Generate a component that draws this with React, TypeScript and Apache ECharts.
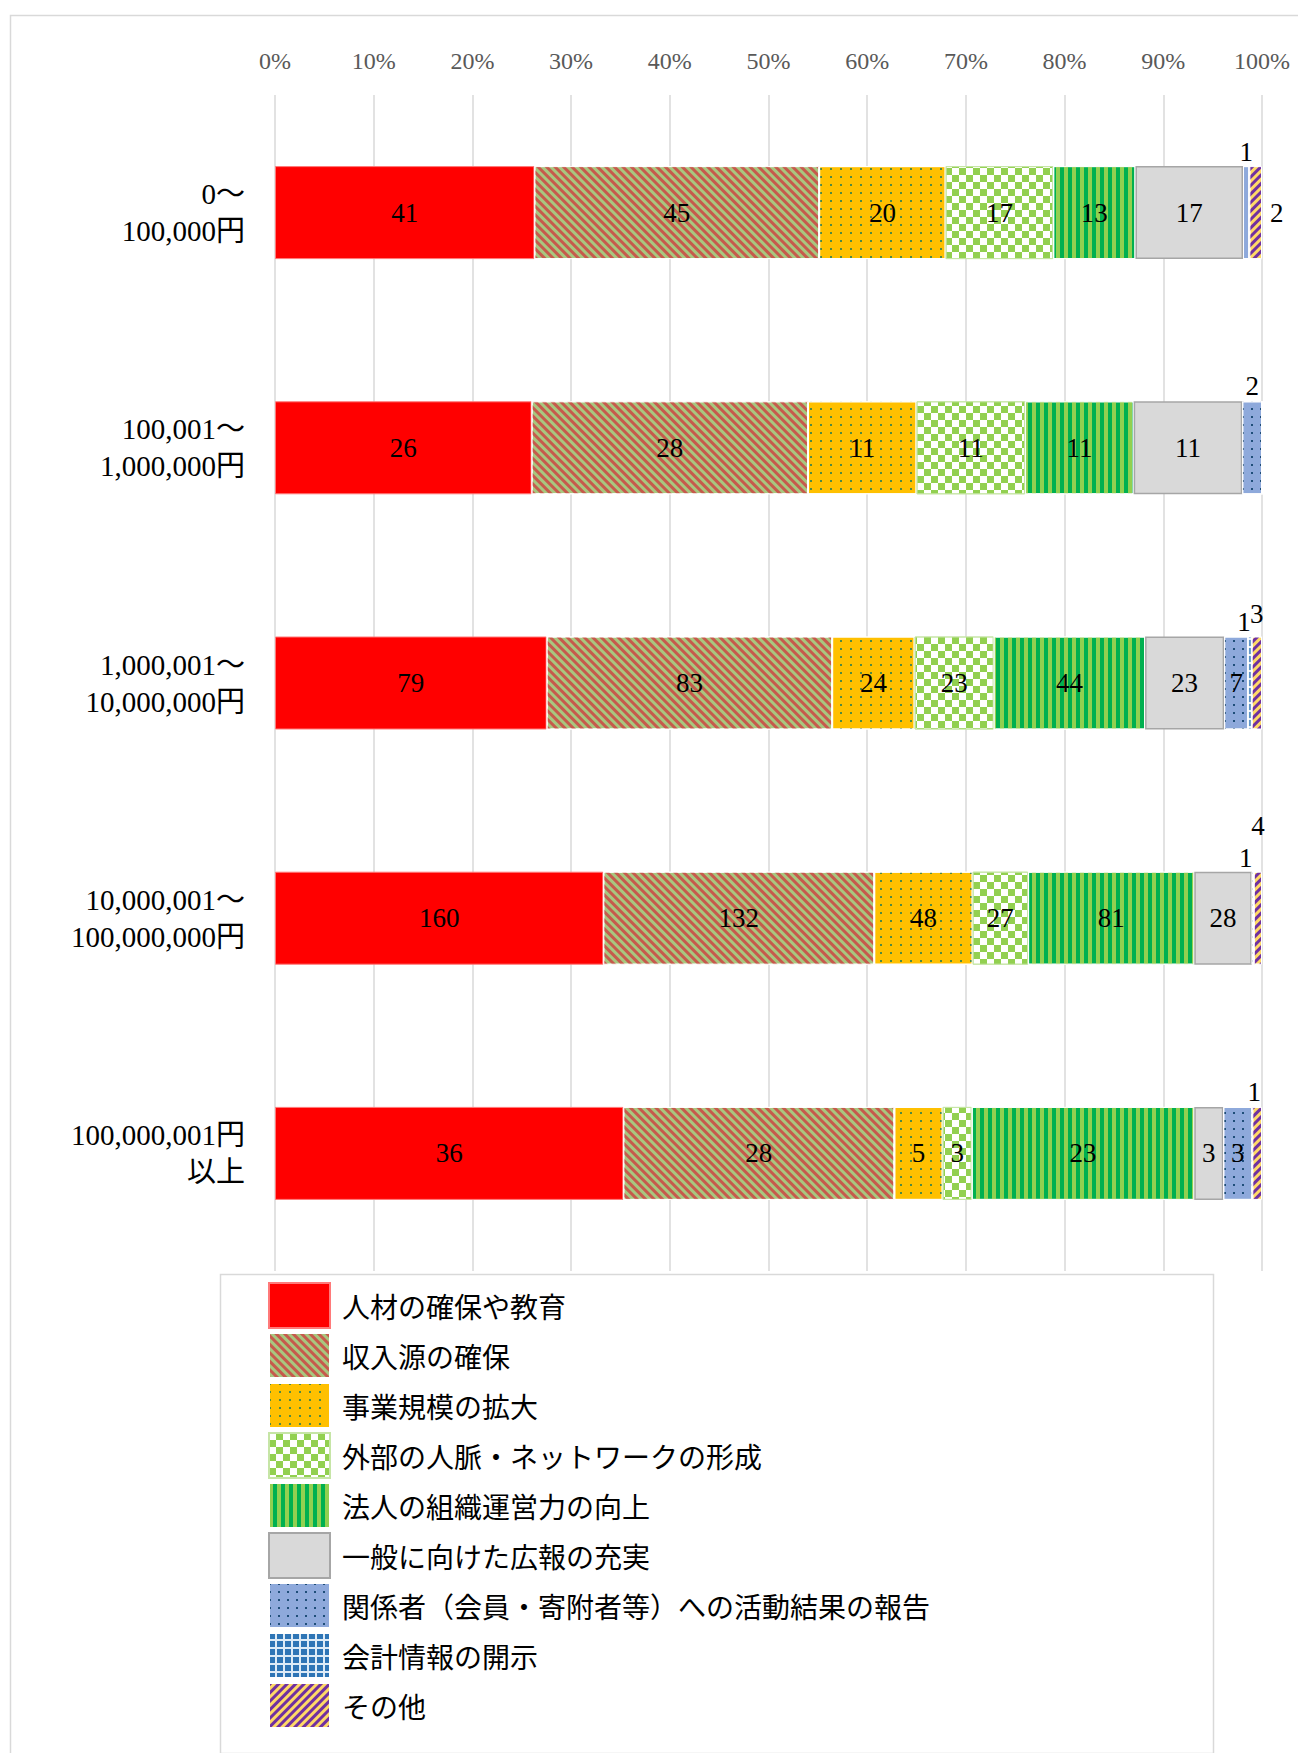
import React, { useEffect, useRef } from 'react';
import * as echarts from 'echarts';

const categories = [
  '0～\n100,000円',
  '100,001～\n1,000,000円',
  '1,000,001～\n10,000,000円',
  '10,000,001～\n100,000,000円',
  '100,000,001円\n以上',
];

const seriesNames = [
  '人材の確保や教育',
  '収入源の確保',
  '事業規模の拡大',
  '外部の人脈・ネットワークの形成',
  '法人の組織運営力の向上',
  '一般に向けた広報の充実',
  '関係者（会員・寄附者等）への活動結果の報告',
  '会計情報の開示',
  'その他',
];

const jinzai = [41, 26, 79, 160, 36];
const shunyu = [45, 28, 83, 132, 28];
const jigyo = [20, 11, 24, 48, 5];
const gaibu = [17, 11, 23, 27, 3];
const hojin = [13, 11, 44, 81, 23];
const koho = [17, 11, 23, 28, 3];
const kankei = [1, 2, 7, 1, 3];
const kaikei = [0, 0, 1, 0, 0];
const sonota = [2, 0, 3, 4, 1];

const values = [jinzai, shunyu, jigyo, gaibu, hojin, koho, kankei, kaikei, sonota];

const SERIF = "'Liberation Serif', 'DejaVu Serif', 'Noto Sans CJK JP', serif";
const MIXED = "'Liberation Serif', 'Noto Sans CJK JP', serif";

const styles: any[] = [
  { color: '#FF0000', borderColor: '#FF7A7A', borderWidth: 1 },
  {
    color: '#A8C77F', borderColor: '#FFFFFF', borderWidth: 1,
    decal: { color: '#C65A4C', dashArrayX: [1, 0], dashArrayY: [2.5, 2.5], rotation: Math.PI / 4 },
  },
  {
    color: '#FFC000', borderColor: '#FFFFFF', borderWidth: 1,
    decal: { color: '#4F8A45', symbol: 'rect', dashArrayX: [2, 8], dashArrayY: [2, 6] },
  },
  {
    color: '#FFFFFF', borderColor: '#C6E5A6', borderWidth: 1,
    decal: { color: '#92D050', dashArrayX: [[7, 7], [0, 7, 7, 0]], dashArrayY: [7, 0] },
  },
  {
    color: '#00B050', borderColor: '#FFFFFF', borderWidth: 1,
    decal: { color: '#92D050', dashArrayX: [4, 4], dashArrayY: [10, 0] },
  },
  { color: '#D9D9D9', borderColor: '#A6A6A6', borderWidth: 1.5 },
  {
    color: '#8EA9DB', borderColor: '#FFFFFF', borderWidth: 1,
    decal: { color: '#1F4E79', symbol: 'rect', dashArrayX: [2, 7], dashArrayY: [2, 6] },
  },
  {
    color: '#DDEBF7', borderColor: '#FFFFFF', borderWidth: 1,
    decal: { color: '#2E75B6', symbol: 'rect', dashArrayX: [6, 2], dashArrayY: [6, 2] },
  },
  {
    color: '#FFD966', borderColor: '#FFFFFF', borderWidth: 1,
    decal: { color: '#7030A0', dashArrayX: [1, 0], dashArrayY: [2.5, 2.5], rotation: -Math.PI / 4 },
  },
];

// label placement overrides for tiny segments: key = "category-series"
const labelOverrides: Record<string, any> = {
  '0-6': { position: 'top', distance: 1 },
  '0-8': { position: 'right', distance: 8 },
  '1-6': { position: 'top', distance: 2 },
  '2-7': { position: 'top', distance: 1, offset: [-6, 0] },
  '2-8': { position: 'top', distance: 1, offset: [0, -8] },
  '3-6': { position: 'top', distance: 0, offset: [-7, 0] },
  '3-8': { position: 'top', distance: 0, offset: [0, -32] },
  '4-8': { position: 'top', distance: 1, offset: [-3, 0] },
};

export default function App() {
  const ref = useRef<HTMLDivElement>(null);

  useEffect(() => {
    const chart = echarts.init(ref.current!, null, { renderer: 'svg' });
    const totals = categories.map((_, i) => values.reduce((s, arr) => s + arr[i], 0));

    const series = seriesNames.map((name, si) => ({
      name,
      type: 'bar',
      stack: 'total',
      barWidth: 93,
      itemStyle: styles[si],
      label: {
        show: true,
        position: 'inside',
        color: '#000000',
        fontSize: 27,
        fontFamily: SERIF,
        formatter: (p: any) => (p.data.raw > 0 ? String(p.data.raw) : ''),
      },
      emphasis: { disabled: true },
      data: values[si].map((v, ci) => {
        const item: any = { value: (v / totals[ci]) * 100, raw: v };
        const ov = labelOverrides[`${ci}-${si}`];
        if (ov) item.label = ov;
        return item;
      }),
    }));

    const option: any = {
      animation: false,
      backgroundColor: '#FFFFFF',
      grid: { left: 275, width: 987, top: 95, height: 1176, containLabel: false },
      xAxis: {
        type: 'value',
        position: 'top',
        min: 0,
        max: 100,
        interval: 10,
        axisLine: { show: false },
        axisTick: { show: false },
        splitLine: { show: true, lineStyle: { color: '#D9D9D9', width: 1.5 } },
        axisLabel: {
          formatter: '{value}%',
          color: '#595959',
          fontSize: 24,
          fontFamily: SERIF,
          margin: 22,
        },
      },
      yAxis: {
        type: 'category',
        inverse: true,
        data: categories,
        axisLine: { show: false },
        axisTick: { show: false },
        splitLine: { show: false },
        axisLabel: {
          color: '#000000',
          fontSize: 29,
          lineHeight: 37,
          fontFamily: MIXED,
          align: 'right',
          margin: 30,
        },
      },
      legend: {
        orient: 'vertical',
        left: 268,
        top: 1282,
        padding: 0,
        itemWidth: 61,
        itemHeight: 45,
        itemGap: 3,
        icon: 'rect',
        selectedMode: false,
        data: seriesNames,
        textStyle: {
          fontSize: 28,
          lineHeight: 40,
          color: '#000000',
          fontFamily: "'Noto Sans CJK JP', sans-serif",
          padding: [0, 0, 0, 7],
        },
      },
      graphic: [
        {
          type: 'rect',
          left: 8,
          top: 13,
          shape: { width: 1310, height: 1760 },
          style: { fill: 'none', stroke: '#D9D9D9', lineWidth: 1.5 },
          silent: true,
        },
        {
          type: 'rect',
          left: 218,
          top: 1272,
          shape: { width: 993, height: 479 },
          style: { fill: 'none', stroke: '#D9D9D9', lineWidth: 1.5 },
          silent: true,
        },
      ],
      series,
    };

    chart.setOption(option);
    return () => chart.dispose();
  }, []);

  return (
    <div
      ref={ref}
      style={{ position: 'absolute', left: 0, top: 0, width: 1298, height: 1753 }}
    />
  );
}
